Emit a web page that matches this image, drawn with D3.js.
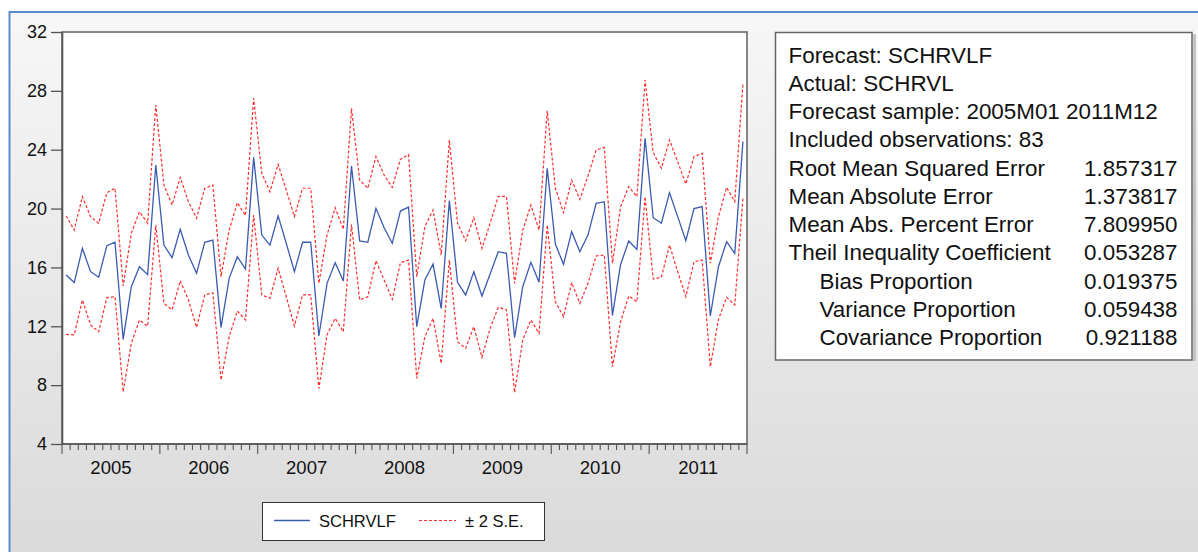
<!DOCTYPE html>
<html>
<head>
<meta charset="utf-8">
<script src="https://cdn.jsdelivr.net/npm/d3@7"></script>
<style>
  html, body { margin: 0; padding: 0; background: #ffffff; }
  svg { display: block; font-family: "Liberation Sans", Arial, sans-serif; }
</style>
</head>
<body>
<svg id="chart" width="1198" height="552"></svg>
<script>
// Monthly forecast SCHRVLF, 2005M01 - 2011M12, with ±2 S.E. band
const forecast = [
  15.49, 14.97, 17.30, 15.71, 15.33, 17.48, 17.71, 11.11, 14.69, 16.05, 15.51, 22.96,
  17.52, 16.66, 18.59, 16.84, 15.60, 17.71, 17.86, 11.93, 15.26, 16.73, 15.89, 23.48,
  18.20, 17.52, 19.50, 17.64, 15.71, 17.71, 17.71, 11.34, 14.92, 16.32, 15.08, 22.89,
  17.80, 17.71, 20.02, 18.70, 17.64, 19.83, 20.10, 11.97, 15.15, 16.23, 13.22, 20.54,
  14.99, 14.13, 15.71, 14.06, 15.55, 17.07, 16.96, 11.22, 14.69, 16.35, 14.99, 22.74,
  17.59, 16.21, 18.43, 17.07, 18.20, 20.36, 20.47, 12.74, 16.20, 17.80, 17.22, 24.77,
  19.38, 19.00, 21.08, 19.45, 17.82, 20.00, 20.13, 12.70, 16.05, 17.75, 16.96, 24.55
];
const upperBand = [
  19.50, 18.54, 20.81, 19.45, 19.00, 21.08, 21.38, 14.74, 18.32, 19.79, 19.00, 27.04,
  21.60, 20.24, 22.12, 20.47, 19.34, 21.38, 21.60, 15.37, 18.54, 20.40, 19.52, 27.49,
  22.40, 21.15, 23.00, 21.26, 19.45, 21.38, 21.38, 14.92, 18.20, 20.06, 18.59, 26.81,
  21.94, 21.38, 23.53, 22.28, 21.44, 23.35, 23.67, 15.37, 18.77, 19.90, 16.84, 24.66,
  19.00, 17.82, 19.38, 17.30, 19.00, 20.83, 20.83, 14.92, 18.54, 20.24, 18.54, 26.65,
  21.38, 19.72, 21.94, 20.63, 22.21, 23.98, 24.16, 16.28, 20.13, 21.49, 20.81, 28.74,
  23.80, 22.74, 24.66, 23.19, 21.67, 23.53, 23.76, 16.28, 19.45, 21.44, 20.47, 28.47
];
const lowerBand = [
  11.45, 11.42, 13.79, 12.09, 11.63, 13.95, 14.01, 7.55, 10.84, 12.43, 12.00, 18.88,
  13.56, 13.11, 15.10, 13.79, 11.93, 14.13, 14.28, 8.35, 11.29, 13.04, 12.43, 19.56,
  14.13, 13.90, 15.94, 14.01, 12.02, 14.13, 14.13, 7.78, 11.42, 12.54, 11.63, 18.93,
  13.79, 14.01, 16.46, 15.15, 13.83, 16.32, 16.50, 8.46, 11.29, 12.54, 9.48, 16.50,
  10.95, 10.50, 11.97, 9.89, 11.86, 13.29, 13.11, 7.49, 11.07, 12.43, 11.52, 18.88,
  13.67, 12.65, 14.97, 13.56, 14.92, 16.78, 16.84, 9.25, 12.31, 14.06, 13.67, 20.81,
  15.21, 15.33, 17.52, 15.71, 14.01, 16.39, 16.50, 9.25, 12.47, 13.97, 13.45, 20.70
];
const years = ["2005", "2006", "2007", "2008", "2009", "2010", "2011"];
const yTicks = [4, 8, 12, 16, 20, 24, 28, 32];

const statLabels = [
  "Forecast: SCHRVLF", "Actual: SCHRVL", "Forecast sample: 2005M01 2011M12",
  "Included observations: 83", "Root Mean Squared Error", "Mean Absolute Error",
  "Mean Abs. Percent Error", "Theil Inequality Coefficient", "Bias Proportion",
  "Variance Proportion", "Covariance Proportion"
];
const statValues = ["", "", "", "", "1.857317", "1.373817", "7.809950", "0.053287",
  "0.019375", "0.059438", "0.921188"];
const statIndent = [0, 0, 0, 0, 0, 0, 0, 0, 1, 1, 1];

// month keys 2005M01 ... 2011M12
const months = [];
years.forEach(y => { for (let m = 1; m <= 12; m++) months.push(y + "M" + String(m).padStart(2, "0")); });

const svg = d3.select("#chart");
const defs = svg.append("defs");
const grad = defs.append("linearGradient").attr("id", "bg").attr("x1", 0).attr("y1", 0).attr("x2", 0).attr("y2", 1);
grad.append("stop").attr("offset", "0%").attr("stop-color", "#f7f7f7");
grad.append("stop").attr("offset", "100%").attr("stop-color", "#d9d9d9");

// window frame
svg.append("rect").attr("x", 9.5).attr("y", 12).attr("width", 1200).attr("height", 560)
  .attr("fill", "url(#bg)").attr("stroke", "#5a8ad0").attr("stroke-width", 2);

const plot = { left: 62, right: 747, top: 32, bottom: 444 };

const x = d3.scaleBand().domain(months).range([plot.left, plot.right]).paddingInner(0).paddingOuter(0);
const y = d3.scaleLinear().domain([4, 32]).range([plot.bottom, plot.top]);
const cx = d => x(d) + x.bandwidth() / 2;

// plot area
svg.append("rect").attr("x", plot.left).attr("y", plot.top)
  .attr("width", plot.right - plot.left).attr("height", plot.bottom - plot.top)
  .attr("fill", "#ffffff").attr("stroke", "#6a6a6a").attr("stroke-width", 1.6);

// y axis
const yAxis = d3.axisLeft(y).tickValues(yTicks).tickSize(11).tickPadding(4).tickSizeOuter(0);
const gy = svg.append("g").attr("transform", `translate(${plot.left},0)`).call(yAxis);
gy.select(".domain").attr("stroke", "#555").attr("stroke-width", 1.6);
gy.selectAll(".tick line").attr("stroke", "#555").attr("stroke-width", 1.3);
gy.selectAll(".tick text").attr("font-size", 18).attr("fill", "#111")
  .attr("font-family", "'Liberation Sans', Arial, sans-serif");

// x axis: month ticks at band edges, year ticks longer
const edges = d3.range(months.length + 1);
const edgeX = i => plot.left + i * x.step();
const gx = svg.append("g");
gx.append("line").attr("x1", plot.left).attr("x2", plot.right)
  .attr("y1", plot.bottom).attr("y2", plot.bottom).attr("stroke", "#555").attr("stroke-width", 1.6);
gx.selectAll("line.tk").data(edges).join("line").attr("class", "tk")
  .attr("x1", edgeX).attr("x2", edgeX)
  .attr("y1", plot.bottom)
  .attr("y2", i => plot.bottom + (i % 12 === 0 ? 10 : 6))
  .attr("stroke", "#555").attr("stroke-width", 1.1);
gx.selectAll("text.yr").data(years).join("text").attr("class", "yr")
  .attr("x", (d, i) => (x(d + "M01") + x(d + "M12") + x.bandwidth()) / 2)
  .attr("y", 474).attr("text-anchor", "middle").attr("font-size", 18.5).attr("fill", "#111")
  .text(d => d);

// series
const line = arr => d3.line().x((d, i) => cx(months[i])).y(d => y(d))(arr);
svg.append("path").attr("d", line(upperBand)).attr("fill", "none")
  .attr("stroke", "#ff2d2d").attr("stroke-width", 1.2).attr("stroke-dasharray", "3,2");
svg.append("path").attr("d", line(lowerBand)).attr("fill", "none")
  .attr("stroke", "#ff2d2d").attr("stroke-width", 1.2).attr("stroke-dasharray", "3,2");
svg.append("path").attr("d", line(forecast)).attr("fill", "none")
  .attr("stroke", "#3a5cb0").attr("stroke-width", 1.3);

// legend
const lg = svg.append("g");
lg.append("rect").attr("x", 262.5).attr("y", 502.5).attr("width", 282).attr("height", 38)
  .attr("fill", "#ffffff").attr("stroke", "#333").attr("stroke-width", 1);
lg.append("line").attr("x1", 274).attr("x2", 310).attr("y1", 520.5).attr("y2", 520.5)
  .attr("stroke", "#3a5cb0").attr("stroke-width", 1.3);
lg.append("text").attr("x", 319).attr("y", 527).attr("font-size", 16.5).attr("fill", "#111").text("SCHRVLF");
lg.append("line").attr("x1", 419).attr("x2", 456).attr("y1", 520.5).attr("y2", 520.5)
  .attr("stroke", "#ff2d2d").attr("stroke-width", 1.2).attr("stroke-dasharray", "3,2");
lg.append("text").attr("x", 465).attr("y", 527).attr("font-size", 16.5).attr("fill", "#111").text("± 2 S.E.");

// statistics table
const st = svg.append("g");
st.append("rect").attr("x", 1193).attr("y", 34).attr("width", 3).attr("height", 327).attr("fill", "#c4c4c4");
st.append("rect").attr("x", 775.5).attr("y", 32.5).attr("width", 416.5).attr("height", 327.5)
  .attr("fill", "#ffffff").attr("stroke", "#666").attr("stroke-width", 1.5);
const rowY = i => 62.7 + i * 28.23;
st.selectAll("text.lab").data(statLabels).join("text").attr("class", "lab")
  .attr("x", (d, i) => statIndent[i] ? 819.5 : 788.5).attr("y", (d, i) => rowY(i))
  .attr("font-size", 22.4).attr("fill", "#111").text(d => d);
st.selectAll("text.val").data(statValues).join("text").attr("class", "val")
  .attr("x", 1177.5).attr("y", (d, i) => rowY(i)).attr("text-anchor", "end")
  .attr("font-size", 22.4).attr("fill", "#111").text(d => d);
</script>
</body>
</html>
